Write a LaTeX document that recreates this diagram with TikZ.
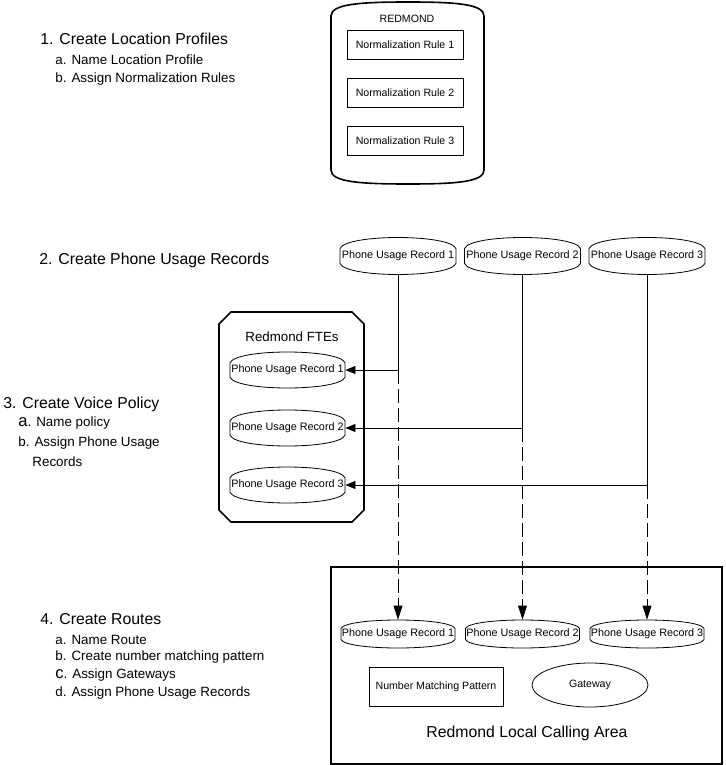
\documentclass[tikz,border=0pt]{standalone}
\usepackage{fontspec}
\setmainfont{Liberation Sans}
\usetikzlibrary{arrows.meta,shapes.geometric}

% outline of a record: node name, half width, half height
\newcommand{\recordoutline}[3]{%
  \draw[shift={(#1.center)}] (-#2,-0.4*#3) .. controls (-0.9*#2,-1.2*#3) and (0.9*#2,-1.2*#3) .. (#2,-0.4*#3)
    -- (#2,0.4*#3) .. controls (0.9*#2,1.2*#3) and (-0.9*#2,1.2*#3) .. (-#2,0.4*#3) -- cycle;}

\begin{document}
\begin{tikzpicture}[x=1pt,y=-1pt,>={Triangle[length=10pt,width=8pt]},line width=0.8pt,
    every node/.style={inner sep=0pt},
    heading/.style={anchor=west,font=\fontsize{15.8}{18}\selectfont},
    item/.style={anchor=west,font=\fontsize{13.4}{16}\selectfont},
    smalltext/.style={font=\fontsize{10.6}{12}\selectfont},
    record/.style={font=\fontsize{10.8}{13}\selectfont,minimum width=116pt,minimum height=37pt},
    lowrecord/.style={record,minimum width=114pt,minimum height=28pt},
    rulebox/.style={smalltext,draw,minimum width=116pt,minimum height=29pt},
    container/.style={line width=1.6pt},
    dashline/.style={dash pattern=on 14pt off 5pt,-{Triangle[length=14pt,width=9pt]}}]
  \useasboundingbox (0,0) rectangle (725,765);

  % steps on the left
  \node[heading] (s1) at (40,39) {1. Create Location Profiles};
  \node[item] (s1a) at (55,60) {a. Name Location Profile};
  \node[item] (s1b) at (55,79) {b. Assign Normalization Rules};
  \node[heading] (s2) at (39,260) {2. Create Phone Usage Records};
  \node[heading] (s3) at (3,404) {3. Create Voice Policy};
  \node[item] (s3a) at (18,423) {{\fontsize{16.5}{18}\selectfont a}. Name policy};
  \node[item] (s3b) at (18,443) {b. Assign Phone Usage};
  \node[item] (s3c) at (32,462) {Records};
  \node[heading] (s4) at (40,619) {4. Create Routes};
  \node[item] (s4a) at (55,640) {a. Name Route};
  \node[item] (s4b) at (55,657) {b. Create number matching pattern};
  \node[item] (s4c) at (55,675) {{\fontsize{16.5}{18}\selectfont c}. Assign Gateways};
  \node[item] (s4d) at (55,693) {d. Assign Phone Usage Records};

  % location profile
  \draw[container] (331,16) .. controls (331,4) and (360,2) .. (408,2) .. controls (456,2) and (484,4) .. (484,16)
    -- (484,170) .. controls (484,182) and (456,184) .. (408,184) .. controls (360,184) and (331,182) .. (331,170) -- cycle;
  \node[smalltext] (loc) at (407,19) {REDMOND};
  \node[rulebox] (n1) at (405,44.5) {Normalization Rule 1};
  \node[rulebox] (n2) at (405,92.5) {Normalization Rule 2};
  \node[rulebox] (n3) at (405,140.5) {Normalization Rule 3};

  % phone usage records
  \node[record] (rt1) at (398,256) {Phone Usage Record 1};
  \node[record] (rt2) at (522.5,256) {Phone Usage Record 2};
  \node[record] (rt3) at (647,256) {Phone Usage Record 3};

  % voice policy
  \draw[container] (231,312) -- (352,312) -- (364,324) -- (364,510) -- (352,522)
    -- (231,522) -- (219,510) -- (219,324) -- cycle;
  \node[font=\fontsize{13.3}{16}\selectfont] (fte) at (292,337) {Redmond FTEs};
  \node[record,minimum width=115pt,minimum height=36pt] (rf1) at (287.5,370) {Phone Usage Record 1};
  \node[record,minimum width=115pt,minimum height=36pt] (rf2) at (287.5,428) {Phone Usage Record 2};
  \node[record,minimum width=115pt,minimum height=36pt] (rf3) at (287.5,485) {Phone Usage Record 3};

  % route
  \draw[container] (331,567) rectangle (722,764);
  \node[lowrecord] (rb1) at (398,634) {Phone Usage Record 1};
  \node[lowrecord] (rb2) at (522.5,634) {Phone Usage Record 2};
  \node[lowrecord] (rb3) at (647,634) {Phone Usage Record 3};
  \node[smalltext,draw,minimum width=134pt,minimum height=39pt] (nmp) at (436,686.5) {Number Matching Pattern};
  \node[smalltext,draw,ellipse,minimum width=116pt,minimum height=44pt] (gw) at (590,685) {\raisebox{2pt}{Gateway}};
  \node[font=\fontsize{15.8}{18}\selectfont] (area) at (527,733) {Redmond Local Calling Area};

  \foreach \r in {rt1,rt2,rt3} \recordoutline{\r}{58}{18.5};
  \foreach \r in {rf1,rf2,rf3} \recordoutline{\r}{57.5}{18};
  \foreach \r in {rb1,rb2,rb3} \recordoutline{\r}{57}{14};

  % connectors
  \foreach \i in {1,2,3} {
    \coordinate (c\i) at (rt\i.south |- rf\i.east);
    \draw (rt\i.south) -- (c\i);
    \draw[->] (c\i) -- (rf\i.east);
    \draw[dashline] (c\i) -- (rb\i.north);
  }
\end{tikzpicture}
\end{document}
